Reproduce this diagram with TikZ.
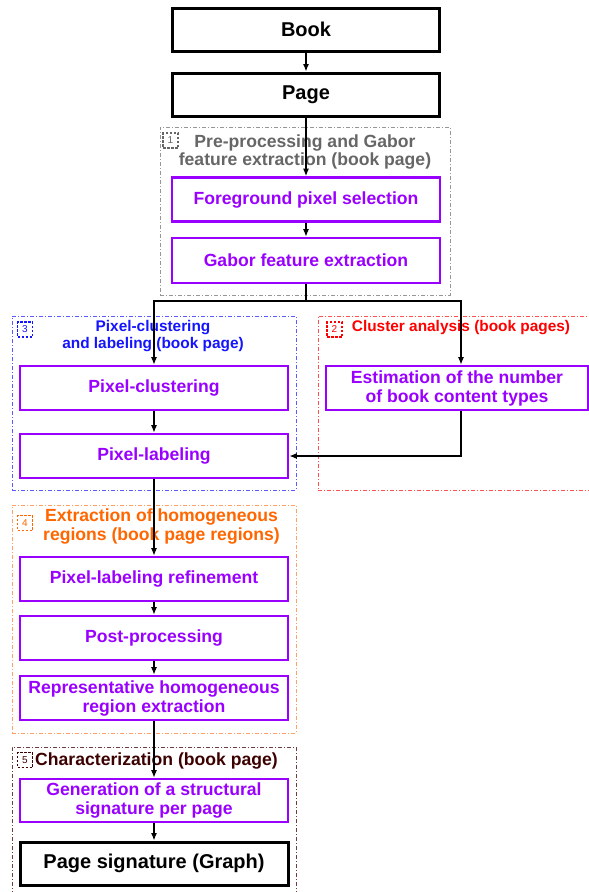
\documentclass[tikz,border=0pt]{standalone}
\usepackage{fontspec}
\setmainfont{Liberation Sans}
\usepackage{xcolor}
\usepackage{tikz}
\usetikzlibrary{arrows.meta}

\definecolor{stepviolet}{RGB}{153,0,255}
\definecolor{grptitlegray}{RGB}{102,102,102}
\definecolor{grpgray}{RGB}{150,150,150}
\definecolor{grpblue}{RGB}{20,20,255}
\definecolor{grpblueline}{RGB}{90,90,255}
\definecolor{grpred}{RGB}{255,0,0}
\definecolor{grpredline}{RGB}{255,80,80}
\definecolor{grporange}{RGB}{255,102,0}
\definecolor{grporangeline}{RGB}{255,160,100}
\definecolor{grpbrown}{RGB}{60,0,0}
\definecolor{grpbrownline}{RGB}{110,60,60}

\begin{document}
\begin{tikzpicture}[x=1pt, y=-1pt,
    mainbox/.style={draw, line width=3pt, inner sep=0pt, minimum width=267, minimum height=43,
        font=\bfseries\fontsize{20}{22}\selectfont},
    stepbox/.style={draw=stepviolet, text=stepviolet, line width=2.6pt, inner sep=0pt,
        minimum width=268, minimum height=44, align=center,
        font=\bfseries\fontsize{17.6}{19}\selectfont},
    grpframe/.style={draw, line width=0.8pt, dash pattern=on 4pt off 2pt on 1pt off 2pt,
        inner sep=0pt},
    grptitle/.style={align=center, inner sep=0pt, font=\bfseries\fontsize{17.6}{18}\selectfont},
    grpnum/.style={draw, line width=1.2pt, dash pattern=on 2.5pt off 1.5pt, inner sep=0pt,
        minimum size=15, font=\fontsize{10}{11}\selectfont},
    flow/.style={line width=1.3pt, -{Latex[length=7.5pt,width=6pt]}}]

    \useasboundingbox (0,0) rectangle (589,892);

    % Group frames
    \node[grpframe, grpgray, minimum width=290, minimum height=168] (g1) at (305,211) {};
    \node[grpframe, grpblueline, minimum width=284, minimum height=174] (g3) at (154,403) {};
    \node[grpframe, grpredline, minimum width=280, minimum height=174] (g2) at (458,403) {};
    \node[grpframe, grporangeline, minimum width=284, minimum height=228] (g4) at (154,619) {};
    \node[grpframe, grpbrownline, minimum width=284, minimum height=152] (g5) at (154,823) {};

    % Group numbers
    \node[grpnum, grptitlegray] (n1) at (170.5,140.5) {1};
    \node[grpnum, grpblue] (n3) at (25,329.5) {3};
    \node[grpnum, grpred] (n2) at (334.5,329.5) {2};
    \node[grpnum, grporange] (n4) at (25,523) {4};
    \node[grpnum, grpbrown] (n5) at (25,760) {5};

    % Group titles
    \node[grptitle, grptitlegray] (t1) at (305,152) {Pre-processing and Gabor\\feature extraction (book page)};
    \node[grptitle, grpblue, font=\bfseries\fontsize{15.4}{17}\selectfont] (t3) at (153,336)
        {Pixel-clustering\\and labeling (book page)};
    \node[grptitle, grpred, font=\bfseries\fontsize{15.4}{17}\selectfont] (t2) at (461,328)
        {Cluster analysis (book pages)};
    \node[grptitle, grporange, font=\bfseries\fontsize{17.6}{19}\selectfont] (t4) at (161.5,526)
        {Extraction of homogeneous\\regions (book page regions)};
    \node[grptitle, grpbrown] (t5) at (156.5,761) {Characterization (book page)};

    % Input
    \node[mainbox] (book) at (306,29.5) {Book};
    \node[mainbox] (page) at (306,94.5) {Page};

    % Pre-processing
    \node[stepbox] (fg) at (306,199.5) {Foreground pixel selection};
    \node[stepbox, minimum height=45] (gabor) at (306,260.5) {Gabor feature extraction};
    \coordinate (split) at (306,301);

    % Clustering and labeling
    \node[stepbox] (clus) at (154,388) {Pixel-clustering};
    \node[stepbox] (lab) at (154,456) {Pixel-labeling};

    % Cluster analysis
    \node[stepbox, minimum width=262] (est) at (457,388) {Estimation of the number\\of book content types};

    % Homogeneous regions
    \node[stepbox] (ref) at (154,579) {Pixel-labeling refinement};
    \node[stepbox] (post) at (154,638) {Post-processing};
    \node[stepbox] (rep) at (154,698) {Representative homogeneous\\region extraction};

    % Characterization
    \node[stepbox, minimum height=43] (gen) at (154,800.5) {Generation of a structural\\signature per page};
    \node[mainbox, minimum width=268] (sig) at (154,863.5) {Page signature (Graph)};

    % Arrows
    \draw[flow] (book) -- (page);
    \draw[flow] (page) -- (fg);
    \draw[flow] (fg) -- (gabor);
    \draw[line width=1.3pt] (gabor) -- (split);
    \draw[flow] (split) -| (clus);
    \draw[flow] (split) -| ([xshift=4]est.north);
    \draw[flow] ([xshift=4]est.south) |- (lab.east);
    \draw[flow] (clus) -- (lab);
    \draw[flow] (lab) -- (ref);
    \draw[flow] (ref) -- (post);
    \draw[flow] (post) -- (rep);
    \draw[flow] (rep) -- (gen);
    \draw[flow] (gen) -- (sig);
\end{tikzpicture}
\end{document}
